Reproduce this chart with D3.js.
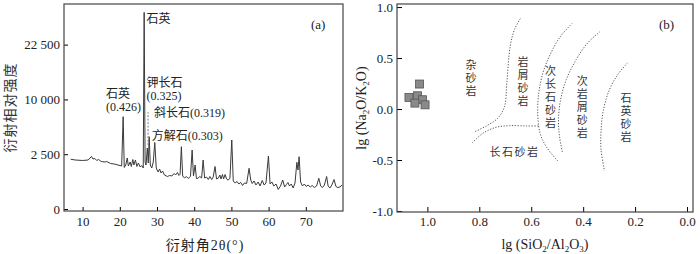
<!DOCTYPE html>
<html>
<head>
<meta charset="utf-8">
<title>XRD 图谱与砂岩分类</title>
<script src="https://cdn.jsdelivr.net/npm/d3@7"></script>
<style>
    body { margin: 0; background: #fff; }
    svg text { font-family: "Liberation Serif", "Times New Roman", "Noto Sans CJK SC", serif; fill: #222; }
    .tick text { font-size: 13px; }
    .cjk { font-family: "Noto Sans CJK SC", sans-serif !important; fill: #333 !important; }
</style>
</head>
<body>
<script>
    // (a) 衍射图谱: 2θ / 强度
    var xrdAngle = [6.8, 8.0, 10.0, 11.5, 12.0, 12.4, 12.8, 13.3, 13.8, 14.3, 15.0, 16.0, 16.5, 17.5, 18.5, 19.5, 20.5, 20.9, 21.2, 21.6,
        22.0, 22.3, 22.8, 23.1, 23.5, 23.8, 24.2, 24.6, 25.0, 25.5, 25.9, 26.3, 26.55, 26.8, 27.05, 27.4, 27.65, 27.9, 28.2, 28.6,
        29.0, 29.4, 29.8, 30.3, 30.7, 31.1, 31.5, 32.0, 32.8, 33.4, 34.0, 34.6, 35.0, 35.5, 35.9, 36.2, 36.55, 36.9, 37.4, 37.9,
        38.4, 39.0, 39.45, 39.8, 40.25, 40.6, 41.0, 41.5, 42.0, 42.4, 42.8, 43.3, 43.8, 44.2, 44.7, 45.1, 45.6, 46.0, 46.5, 46.9,
        47.2, 47.6, 47.9, 48.3, 48.7, 49.1, 49.6, 50.1, 50.5, 51.0, 51.5, 52.0, 52.5, 53.0, 53.5, 54.1, 54.75, 55.2, 55.6, 56.1,
        56.6, 57.2, 57.7, 58.3, 58.8, 59.3, 59.95, 60.4, 60.9, 61.4, 62.0, 62.6, 63.2, 63.8, 64.3, 64.8, 65.2, 65.6, 66.1, 66.6,
        67.1, 67.6, 67.9, 68.2, 68.6, 69.1, 69.6, 70.1, 70.6, 71.2, 71.7, 72.3, 72.9, 73.5, 74.0, 74.5, 75.0, 75.6, 76.0, 76.5,
        77.0, 77.6, 78.1, 78.6, 79.2, 79.7];
    var xrdCount = [2060, 2000, 1960, 2000, 2166, 2295, 2082, 2124, 1960, 2040, 1879, 1840, 1879, 1724, 1686, 1612, 1540, 7095, 1435, 1612,
        2166, 1540, 1840, 1505, 2040, 1612, 2000, 1505, 1762, 1469, 1576, 1400, 32200, 1840, 1612, 3099, 1762, 4353, 1612, 1400,
        1840, 3683, 1400, 1140, 1332, 1079, 1203, 962, 880, 934, 907, 1050, 962, 1110, 934, 1000, 3231, 907, 800, 880,
        775, 880, 2899, 907, 1612, 775, 785, 880, 800, 2000, 800, 853, 724, 880, 724, 853, 1505, 750, 800, 962,
        750, 991, 750, 991, 750, 700, 775, 3965, 653, 563, 630, 520, 590, 460, 563, 542, 1379, 700, 542, 653,
        480, 607, 441, 676, 480, 563, 2340, 520, 607, 441, 520, 317, 441, 700, 403, 500, 585, 441, 520, 367,
        563, 1816, 1267, 2277, 607, 441, 520, 422, 480, 403, 460, 385, 441, 785, 441, 385, 480, 880, 441, 367,
        480, 724, 422, 385, 403, 480];
    var xrdTicksX = [10, 20, 30, 40, 50, 60, 70];
    var xrdTicksY = [0, 2500, 10000, 22500];
    // 峰标注: 文字, 2θ, 强度 (第一行基线)
    var peakLabels = [
        { lines: ["石英"], x: 27.2, y: 28660 },
        { lines: ["石英", "(0.426)"], x: 16.3, y: 10170 },
        { lines: ["钾长石", "(0.325)"], x: 27.2, y: 12497 },
        { lines: ["斜长石(0.319)"], x: 29.2, y: 7018 },
        { lines: ["方解石(0.303)"], x: 28.6, y: 4022 }
    ];
    var dashMark = { x: 27.6, y0: 3400, y1: 7800 };

    // (b) lg(SiO2/Al2O3) - lg(Na2O/K2O)
    var sampleX = [1.030, 1.071, 1.038, 1.019, 1.048, 1.009];
    var sampleY = [0.245, 0.113, 0.130, 0.091, 0.058, 0.041];
    var fieldLines = [
        [[0.642, 0.887], [0.664, 0.782], [0.681, 0.617], [0.694, 0.255], [0.703, 0.025], [0.729, -0.09], [0.773, -0.166], [0.822, -0.228]],
        [[0.827, -0.331], [0.786, -0.238], [0.735, -0.179], [0.684, -0.163], [0.619, -0.166], [0.568, -0.166]],
        [[0.442, 0.841], [0.491, 0.70], [0.530, 0.518], [0.555, 0.354], [0.571, 0.157], [0.575, -0.041], [0.566, -0.238], [0.542, -0.37], [0.498, -0.509]],
        [[0.335, 0.759], [0.382, 0.65], [0.427, 0.485], [0.465, 0.288], [0.487, 0.091], [0.495, -0.107], [0.491, -0.272], [0.479, -0.436]],
        [[0.229, 0.453], [0.267, 0.337], [0.299, 0.189], [0.322, -0.008], [0.331, -0.206], [0.331, -0.403], [0.318, -0.607]]
    ];
    var fieldNames = ["杂砂岩", "岩屑砂岩", "次长石砂岩", "次岩屑砂岩", "石英砂岩", "长石砂岩"];
    var fieldX = [0.832, 0.632, 0.526, 0.404, 0.235, 0.664];
    var fieldY = [0.434, 0.466, 0.368, 0.270, 0.107, -0.418];
    var fieldVertical = [true, true, true, true, true, false];
    var geoTicksX = [1.0, 0.8, 0.6, 0.4, 0.2, 0.0];
    var geoTicksY = [1.0, 0.5, 0.0, -0.5, -1.0];

    var width = 700, height = 254;
    var svg = d3.select("body").append("svg")
        .attr("width", width)
        .attr("height", height);

    var loc = d3.formatLocale({ decimal: ".", thousands: " ", grouping: [3], currency: ["", ""], minus: "-" });

    // 下标文字
    function subText(sel, parts) {
        parts.forEach(function (s, i) {
            var prev = i ? parts[i - 1][1] : 0;
            sel.append("tspan")
                .attr("dy", s[1] - prev ? (s[1] ? 2.5 : -2.5) : 0)
                .style("font-size", s[1] ? "9px" : "14px")
                .text(s[0]);
        });
    }

    // ---------- (a) ----------
    var a = { left: 64, right: 343, top: 4, bottom: 211 };
    var xa = d3.scaleLinear().domain([5, 80]).range([a.left, a.right]);
    var ya = d3.scaleSqrt().domain([0, 35000]).range([209, a.top]);

    var ga = svg.append("g");
    ga.append("g")
        .attr("transform", "translate(0," + a.bottom + ")")
        .call(d3.axisBottom(xa).tickValues(xrdTicksX).tickSize(-4).tickPadding(6))
        .call(g => g.select(".domain").remove());
    ga.append("g")
        .attr("transform", "translate(" + a.left + ",0)")
        .call(d3.axisLeft(ya).tickValues(xrdTicksY).tickSize(-4).tickPadding(4).tickFormat(loc.format(",")))
        .call(g => g.select(".domain").remove());

    var xrd = xrdAngle.map((t, i) => [t, xrdCount[i]]);
    ga.append("path")
        .datum(xrd)
        .attr("fill", "none")
        .attr("stroke", "#3a3a3a")
        .attr("stroke-width", 1)
        .attr("d", d3.line().x(d => xa(d[0])).y(d => ya(d[1])));

    ga.append("line")
        .attr("x1", xa(dashMark.x)).attr("x2", xa(dashMark.x))
        .attr("y1", ya(dashMark.y0)).attr("y2", ya(dashMark.y1))
        .attr("stroke", "#777")
        .attr("stroke-dasharray", "2,1.5");

    peakLabels.forEach(function (p) {
        p.lines.forEach(function (s, i) {
            ga.append("text")
                .attr("x", xa(p.x))
                .attr("y", ya(p.y) + i * 13)
                .style("font-size", "12px")
                .text(s);
        });
    });

    ga.append("rect")
        .attr("x", a.left).attr("y", a.top)
        .attr("width", a.right - a.left).attr("height", a.bottom - a.top)
        .attr("fill", "none").attr("stroke", "#444").attr("stroke-width", 1.2);

    ga.append("text").attr("x", a.right - 32).attr("y", 28.5)
        .style("font-size", "13px").text("(a)");
    ga.append("text")
        .attr("class", "cjk")
        .attr("transform", "translate(15," + (a.top + a.bottom) / 2 + ") rotate(-90)")
        .attr("text-anchor", "middle")
        .style("font-size", "14px")
        .style("letter-spacing", "1px")
        .text("衍射相对强度");
    ga.append("text")
        .attr("x", 205).attr("y", 250)
        .attr("text-anchor", "middle")
        .style("font-size", "14px")
        .style("letter-spacing", "1px")
        .text("衍射角2θ(°)");

    // ---------- (b) ----------
    var b = { left: 397, right: 693, top: 4, bottom: 212 };
    var xb = d3.scaleLinear().domain([1.117, -0.023]).range([b.left, b.right]);
    var yb = d3.scaleLinear().domain([-1.01, 1.03]).range([b.bottom, b.top]);

    var gb = svg.append("g");
    gb.append("g")
        .attr("transform", "translate(0," + b.bottom + ")")
        .call(d3.axisBottom(xb).tickValues(geoTicksX).tickSize(-5).tickPadding(5).tickFormat(loc.format(".1f")))
        .call(g => g.select(".domain").remove());
    gb.append("g")
        .attr("transform", "translate(" + b.left + ",0)")
        .call(d3.axisLeft(yb).tickValues(geoTicksY).tickSize(-5).tickPadding(4).tickFormat(loc.format(".1f")))
        .call(g => g.select(".domain").remove());

    var curve = d3.line().x(d => xb(d[0])).y(d => yb(d[1])).curve(d3.curveCatmullRom);
    gb.selectAll(".field")
        .data(fieldLines)
        .enter()
        .append("path")
        .attr("class", "field")
        .attr("fill", "none")
        .attr("stroke", "#555")
        .attr("stroke-width", 1)
        .attr("stroke-dasharray", "1.2,1.6")
        .attr("d", curve);

    fieldNames.forEach(function (name, i) {
        var chars = fieldVertical[i] ? name.split("") : [name];
        chars.forEach(function (c, j) {
            gb.append("text")
                .attr("class", "cjk")
                .attr("text-anchor", "middle")
                .attr("x", xb(fieldX[i]))
                .attr("y", yb(fieldY[i]) + j * 13 + 4)
                .style("font-size", "11px")
                .style("letter-spacing", fieldVertical[i] ? null : "1.5px")
                .text(c);
        });
    });

    var sq = 8;
    gb.selectAll(".sample")
        .data(sampleX)
        .enter()
        .append("rect")
        .attr("class", "sample")
        .attr("x", d => xb(d) - sq / 2)
        .attr("y", (d, i) => yb(sampleY[i]) - sq / 2)
        .attr("width", sq).attr("height", sq)
        .attr("fill", "#8a8a8a")
        .attr("stroke", "#555")
        .attr("stroke-width", 0.8);

    gb.append("rect")
        .attr("x", b.left).attr("y", b.top)
        .attr("width", b.right - b.left).attr("height", b.bottom - b.top)
        .attr("fill", "none").attr("stroke", "#444").attr("stroke-width", 1.2);

    gb.append("text").attr("x", b.right - 34).attr("y", 28.5)
        .style("font-size", "13px").text("(b)");

    var ylab = gb.append("text")
        .attr("transform", "translate(366," + (b.top + b.bottom) / 2 + ") rotate(-90)")
        .attr("text-anchor", "middle")
        .style("font-size", "14px");
    subText(ylab, [["lg (Na", 0], ["2", 1], ["O/K", 0], ["2", 1], ["O)", 0]]);
    var xlab = gb.append("text")
        .attr("x", (b.left + b.right) / 2).attr("y", 249)
        .attr("text-anchor", "middle")
        .style("font-size", "14px");
    subText(xlab, [["lg (SiO", 0], ["2", 1], ["/Al", 0], ["2", 1], ["O", 0], ["3", 1], [")", 0]]);
</script>
</body>
</html>
